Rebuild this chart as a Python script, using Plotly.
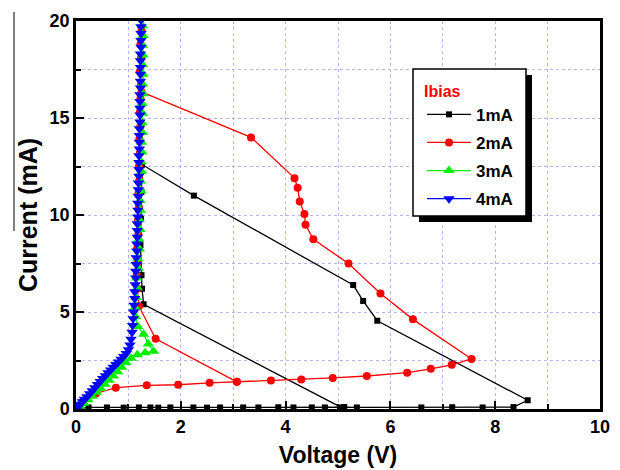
import plotly.graph_objects as go

# ---------------- data ----------------
black_v = [0.00, 0.24, 0.59, 0.91, 1.20, 1.42, 1.57, 1.80, 2.24, 2.50, 2.75, 3.19, 3.48, 3.86,
           4.15, 4.50, 4.75, 5.12, 5.36, 6.59, 7.18, 7.76, 8.35, 8.62, 5.75, 5.48, 5.29, 2.25,
           1.26, 1.25, 1.24, 1.23, 1.25, 1.26, 1.29, 5.06]
black_i = [0.00, 0.08, 0.08, 0.07, 0.08, 0.08, 0.07, 0.08, 0.08, 0.07, 0.08, 0.08, 0.08, 0.09,
           0.08, 0.08, 0.08, 0.10, 0.08, 0.08, 0.09, 0.08, 0.10, 0.45, 4.55, 5.57, 6.39, 11.00,
           12.60, 11.20, 9.80, 8.45, 6.90, 6.20, 5.40, 0.08]

red_v = [1.24, 1.25, 1.23, 1.24, 1.22, 1.24, 1.23, 1.22, 1.23, 1.21, 1.22, 1.20, 1.21, 1.19,
         1.20, 1.18, 1.19, 1.17, 1.18, 1.16, 1.17, 1.20, 1.52, 3.07,
         None,
         0.00, 0.12, 0.38, 0.76, 1.35, 1.95, 2.55, 3.07, 3.72, 4.30, 4.90, 5.55, 6.32, 6.77,
         7.17, 7.55, 6.43, 5.81, 5.20, 4.53, 4.38, 4.36, 4.27, 4.23, 4.17, 3.34, 1.25]
red_i = [20.2, 19.5, 18.8, 18.1, 17.4, 16.7, 16.0, 15.3, 14.6, 13.9, 13.2, 12.5, 11.8, 11.1,
         10.4, 9.7, 9.0, 8.3, 7.6, 6.9, 6.2, 5.30, 3.62, 1.40,
         None,
         0.00, 0.35, 0.80, 1.10, 1.22, 1.25, 1.35, 1.40, 1.47, 1.52, 1.60, 1.70, 1.87, 2.07,
         2.28, 2.58, 4.62, 5.95, 7.50, 8.75, 9.50, 10.05, 10.70, 11.40, 11.90, 14.00, 16.35]

green_v = [0.00, 0.07, 0.15, 0.23, 0.31, 0.39, 0.47, 0.55, 0.63, 0.71, 0.79, 0.87, 0.95, 1.05,
           1.17, 1.32, 1.48, 1.38, 1.29, 1.18, 1.14, 1.13, 1.15, 1.17, 1.16, 1.19, 1.18, 1.21,
           1.20, 1.22, 1.21, 1.23, 1.22, 1.24, 1.23, 1.25, 1.24, 1.26, 1.25, 1.27, 1.26, 1.27,
           1.26, 1.28, 1.27, 1.28, 1.27, 1.28, 1.27, 1.28, 1.27, 1.28]
green_i = [0.00, 0.15, 0.30, 0.48, 0.66, 0.86, 1.06, 1.27, 1.48, 1.70, 1.92, 2.15, 2.40, 2.62,
           2.80, 2.90, 2.98, 3.35, 3.85, 4.25, 4.75, 5.25, 5.75, 6.25, 6.75, 7.25, 7.75, 8.25,
           8.75, 9.25, 9.75, 10.25, 10.75, 11.25, 11.75, 12.25, 12.75, 13.25, 13.75, 14.25,
           14.75, 15.25, 15.75, 16.25, 16.75, 17.25, 17.75, 18.25, 18.75, 19.25, 19.75, 20.25]

blue_v = [0.00, 0.04, 0.08, 0.12, 0.16, 0.21, 0.26, 0.31, 0.36, 0.41, 0.46, 0.51, 0.56, 0.61,
          0.66, 0.71, 0.76, 0.81, 0.86, 0.91, 0.96, 1.00, 1.03, 1.05, 1.07, 1.08, 1.09, 1.10,
          1.11, 1.12, 1.12, 1.13, 1.14, 1.14, 1.15, 1.15, 1.16, 1.16, 1.17, 1.17, 1.17, 1.18,
          1.18, 1.18, 1.19, 1.19, 1.19, 1.20, 1.20, 1.20, 1.20, 1.21, 1.21, 1.21, 1.21, 1.22,
          1.22, 1.22, 1.22, 1.22, 1.23, 1.23, 1.23, 1.23, 1.23, 1.23, 1.24, 1.24, 1.24, 1.24,
          1.24]
blue_i = [0.00, 0.12, 0.25, 0.37, 0.50, 0.63, 0.78, 0.94, 1.10, 1.26, 1.42, 1.57, 1.72, 1.87,
          2.01, 2.15, 2.29, 2.42, 2.56, 2.70, 2.86, 3.05, 3.30, 3.60, 3.95, 4.30, 4.65, 5.00,
          5.35, 5.70, 6.05, 6.40, 6.75, 7.10, 7.45, 7.80, 8.15, 8.50, 8.85, 9.20, 9.55, 9.90,
          10.25, 10.60, 10.95, 11.30, 11.65, 12.00, 12.35, 12.70, 13.05, 13.40, 13.75, 14.10,
          14.45, 14.80, 15.15, 15.50, 15.85, 16.20, 16.55, 16.90, 17.25, 17.60, 17.95, 18.30,
          18.65, 19.00, 19.35, 19.70, 20.05]

series_names = ["1mA", "2mA", "3mA", "4mA"]
legend_title = "Ibias"
x_ticks = [0, 2, 4, 6, 8, 10]
y_ticks = [0, 5, 10, 15, 20]

# ---------------- figure ----------------
FONT = "Liberation Sans, Arial, sans-serif"
L, R, T, B = 76, 20, 21, 61
W, H = 620, 470
pw, ph = W - L - R, H - T - B


def px_x(p):
    return (p - L) / pw


def px_y(p):
    return 1 - (p - T) / ph


fig = go.Figure()
styles = [
    (black_v, black_i, "#000000", "square", 6),
    (red_v, red_i, "#ff0000", "circle", 8),
    (green_v, green_i, "#00ee00", "triangle-up", 10),
    (blue_v, blue_i, "#0000ff", "triangle-down", 10),
]
for (vx, iy, col, sym, sz), nm in zip(styles, series_names):
    fig.add_trace(go.Scatter(
        x=vx, y=iy, name=nm, mode="lines+markers", legendgroup=nm,
        line=dict(color=col, width=1.3),
        marker=dict(color=col, symbol=sym, size=sz, line=dict(width=0)),
        connectgaps=False,
    ))

grid_col = "#b4b4ee"
axis_common = dict(
    showline=True, linecolor="black", linewidth=2.5, mirror=True,
    ticks="inside", ticklen=8, tickwidth=1.5, tickcolor="black",
    showgrid=True, gridcolor=grid_col, griddash="dot", gridwidth=1,
    zeroline=False, automargin=False,
    tickfont=dict(family=FONT, size=18, color="black", weight="bold"),
)
fig.update_xaxes(
    range=[0, 10], tickvals=x_ticks,
    minor=dict(dtick=1, ticks="inside", ticklen=5, tickcolor="black",
               showgrid=True, gridcolor=grid_col, griddash="dot", gridwidth=1),
    title=dict(text="Voltage (V)", font=dict(family=FONT, size=23, color="black", weight="bold"),
               standoff=11),
    **axis_common,
)
fig.update_yaxes(
    range=[0, 20], tickvals=y_ticks,
    minor=dict(dtick=2.5, ticks="inside", ticklen=5, tickcolor="black",
               showgrid=True, gridcolor=grid_col, griddash="dot", gridwidth=1),
    title=dict(text="Current (mA)", font=dict(family=FONT, size=25, color="black", weight="bold"),
               standoff=5),
    **axis_common,
)

# legend box + shadow
bx0, bx1, by0, by1 = 413, 526, 69, 216
fig.add_shape(type="rect", xref="paper", yref="paper", layer="above",
              x0=px_x(bx0 + 6), x1=px_x(bx1 + 6), y0=px_y(by1 + 6), y1=px_y(by0 + 6),
              fillcolor="black", line=dict(width=0))
fig.add_shape(type="rect", xref="paper", yref="paper", layer="above",
              x0=px_x(bx0), x1=px_x(bx1), y0=px_y(by1), y1=px_y(by0),
              fillcolor="white", line=dict(color="black", width=1.5))
# thin stray line at far left of the original
fig.add_shape(type="line", xref="paper", yref="paper",
              x0=px_x(14), x1=px_x(14), y0=px_y(231), y1=px_y(12),
              line=dict(color="black", width=1))

fig.update_layout(
    width=W, height=H,
    margin=dict(l=L, r=R, t=T, b=B),
    plot_bgcolor="white", paper_bgcolor="white",
    font=dict(family=FONT, color="black"),
    legend=dict(
        x=px_x(bx0 + 9), y=px_y(by0 + 7), xanchor="left", yanchor="top",
        bgcolor="rgba(0,0,0,0)", borderwidth=0,
        title=dict(text=legend_title, font=dict(family=FONT, size=16, color="#ff0000", weight="bold")),
        font=dict(family=FONT, size=17, color="black", weight="bold"),
        itemwidth=44, tracegroupgap=3,
    ),
)

fig.write_html("out.html")
